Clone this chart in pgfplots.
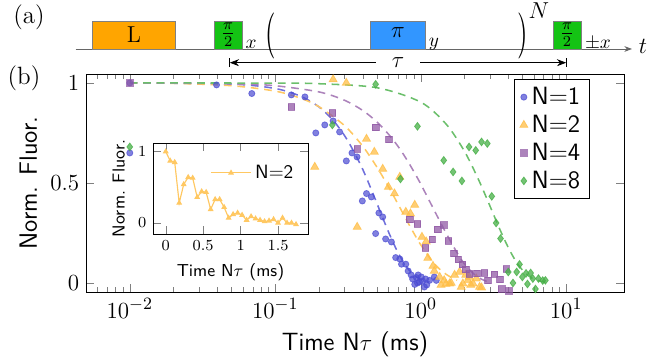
\documentclass[border=0pt]{standalone}
\usepackage{pgfplots}
\usepackage{graphicx}
\pgfplotsset{compat=1.18}
\usetikzlibrary{arrows.meta}
\renewcommand{\familydefault}{\sfdefault}
\definecolor{cA}{RGB}{75,75,210}
\definecolor{cB}{RGB}{255,190,70}
\definecolor{cC}{RGB}{145,90,165}
\definecolor{cD}{RGB}{70,175,70}
\definecolor{boxL}{RGB}{255,165,0}
\definecolor{boxG}{RGB}{20,195,20}
\definecolor{boxB}{RGB}{50,150,255}
\newcommand{\bigfont}{\fontsize{13}{15.6}\selectfont}
\begin{document}
\begin{tikzpicture}
\begin{scope}[x=0.52pt,y=-0.52pt,shift={(-44.72pt,151.84pt)}]
\path[use as bounding box] (0,0) rectangle (657,362);
\node[font=\rmfamily\bigfont] at (29,17) {(a)};
\node[font=\rmfamily\bigfont] at (24,78) {(b)};
\draw[gray!80!black,-{Stealth[length=4pt]}] (75.6,49) -- (632,49);
\node[font=\large] at (643,46) {$t$};
\draw[gray,fill=boxL] (92.4,21) rectangle (175.6,49);
\node[font=\rmfamily\large] at (134,35) {L};
\draw[gray,fill=boxG] (214,21) rectangle (242.4,49);
\node[font=\large] at (228.2,35) {$\frac{\pi}{2}$};
\node at (251,44) {$x$};
\node[inner sep=0pt] at (271,36) {\scalebox{1.4}[2.4]{\rmfamily (}};
\draw[gray,fill=boxB] (370,21) rectangle (425.6,49);
\node[font=\large] at (398,33) {$\pi$};
\node at (434,44) {$y$};
\node[inner sep=0pt] at (523,36) {\scalebox{1.4}[2.4]{\rmfamily )}};
\node[font=\large] at (539,11) {$N$};
\draw[gray,fill=boxG] (553,21) rectangle (581,49);
\node[font=\large] at (567,35) {$\frac{\pi}{2}$};
\node at (598,44) {$\pm x$};
\draw[|<->|,>=Stealth] (229,62.7) -- (567,62.7) node[midway,fill=white,inner xsep=8pt,inner ysep=0pt,font=\large] {$\tau$};
\end{scope}

\begin{axis}[
  name=main, scale only axis, width=279.8pt, height=113.4pt,
  xmode=log, xmin=0.005, xmax=25, ymin=-0.045, ymax=1.045,
  ytick={0,0.5,1},
  font=\bigfont,
  tick label style={font=\bigfont},
  label style={font=\bigfont},
  xlabel={Time N$\tau$ (ms)}, ylabel={Norm. Fluor.},
  legend style={at={(0.937,0.977)}, anchor=north east, legend cell align=left, draw=black, font=\bigfont},
]
\addplot[forget plot, cA!80, line width=0.8pt, dash pattern=on 4pt off 3pt, smooth] coordinates {
(0.01,1.0)(0.05,0.994)(0.1,0.972)(0.15,0.933)(0.2,0.88)(0.25,0.813)(0.3,0.736)(0.35,0.652)(0.4,0.567)(0.45,0.48)(0.5,0.398)(0.55,0.323)(0.6,0.256)(0.65,0.199)(0.7,0.15)(0.8,0.08)(0.9,0.039)(1.0,0.017)(1.15,0.005)};
\addplot[forget plot, cB!85, line width=0.8pt, dash pattern=on 4pt off 3pt, smooth] coordinates {
(0.01,1.0)(0.02,0.998)(0.05,0.986)(0.1,0.959)(0.15,0.923)(0.2,0.881)(0.3,0.786)(0.4,0.683)(0.5,0.579)(0.6,0.482)(0.7,0.393)(0.8,0.314)(0.9,0.247)(1.0,0.191)(1.2,0.109)(1.4,0.059)(1.6,0.030)(1.78,0.014)};
\addplot[forget plot, cC!75, line width=0.8pt, dash pattern=on 4pt off 3pt, smooth] coordinates {
(0.01,1.0)(0.03,0.998)(0.06,0.994)(0.1,0.986)(0.2,0.955)(0.3,0.913)(0.4,0.862)(0.5,0.805)(0.6,0.744)(0.7,0.682)(0.8,0.618)(0.9,0.555)(1.0,0.495)(1.2,0.383)(1.4,0.288)(1.6,0.21)(1.8,0.145)(2.0,0.095)(2.3,0.047)(2.6,0.02)(2.85,0.008)};
\addplot[forget plot, cD!80, line width=0.8pt, dash pattern=on 4pt off 3pt, smooth] coordinates {
(0.01,1.0)(0.1,0.999)(0.2,0.996)(0.5,0.976)(1.0,0.904)(1.5,0.793)(2.0,0.658)(2.5,0.516)(3.0,0.383)(3.5,0.268)(4.0,0.177)(4.5,0.11)(5.0,0.065)(5.5,0.036)(6.0,0.019)(7.0,0.005)(7.5,0.002)};

\addplot[only marks, mark=*, mark size=1.6pt, color=cA, mark options={draw opacity=0.7, fill opacity=0.7}] coordinates {
(0.01,1.0)(0.01,0.65)(0.0395,0.99)(0.069,0.947)(0.129,0.94)(0.16,0.93)(0.19,0.75)(0.219,0.79)(0.25,0.81)(0.277,0.755)(0.308,0.61)(0.337,0.65)(0.365,0.63)(0.397,0.41)(0.424,0.447)(0.458,0.43)(0.49,0.247)(0.516,0.35)(0.548,0.33)(0.574,0.22)(0.629,0.205)(0.673,0.127)(0.718,0.12)(0.738,0.094)(0.79,0.094)(0.82,0.06)(0.86,0.04)(0.88,0.02)(0.91,-0.007)(0.934,0.027)(0.95,0.0)(0.96,0.04)(0.98,0.005)(1.01,0.03)(1.03,0.01)(1.06,-0.02)(1.08,0.02)(1.1,-0.01)(1.15,0.013)(1.24,0.03)(1.28,0.013)};
\addlegendentry{N=1}
\addplot[only marks, mark=triangle*, mark size=2.4pt, color=cB, mark options={draw opacity=0.75, fill opacity=0.75}] coordinates {
(0.187,0.58)(0.25,1.017)(0.308,1.0)(0.366,0.28)(0.424,0.72)(0.48,0.655)(0.548,0.57)(0.60,0.48)(0.66,0.447)(0.718,0.53)(0.79,0.355)(0.85,0.347)(0.91,0.39)(1.02,0.23)(1.09,0.207)(1.12,0.125)(1.215,0.085)(1.24,0.06)(1.35,0.03)(1.38,-0.01)(1.45,0.013)(1.49,-0.005)(1.58,-0.003)(1.62,0.0)(1.71,0.04)(1.85,0.055)(1.9,-0.02)(1.95,-0.003)(2.04,0.04)(2.11,0.013)(2.15,0.03)(2.21,-0.01)(2.29,-0.003)(2.41,0.022)(2.54,-0.02)(2.62,-0.023)};
\addlegendentry{N=2}
\addplot[only marks, mark=square*, mark size=1.7pt, color=cC, mark options={draw opacity=0.75, fill opacity=0.75}] coordinates {
(0.01,1.0)(0.129,0.88)(0.247,0.85)(0.366,0.67)(0.49,0.777)(0.606,0.717)(0.84,0.317)(0.95,0.295)(1.08,0.175)(1.20,0.218)(1.31,0.267)(1.44,0.29)(1.55,0.21)(1.69,0.147)(1.81,0.117)(1.94,0.092)(2.04,0.067)(2.16,0.045)(2.44,0.047)(2.75,0.05)(2.9,0.013)(3.21,0.044)(3.5,0.017)(3.6,-0.03)(3.87,0.07)(4.05,-0.04)};
\addlegendentry{N=4}
\addplot[only marks, mark=diamond*, mark size=2pt, color=cD, mark options={draw opacity=0.75, fill opacity=0.75}] coordinates {
(0.01,0.68)(0.247,0.79)(0.49,0.993)(0.726,0.52)(0.95,0.783)(1.44,0.613)(1.67,0.555)(1.92,0.51)(2.15,0.68)(2.39,0.663)(2.62,0.705)(2.87,0.697)(3.08,0.433)(3.30,0.30)(3.54,0.222)(4.0,0.055)(4.31,0.0)(4.57,0.055)(4.78,0.093)(5.0,0.03)(5.3,0.048)(5.42,-0.005)(5.7,0.05)(5.9,0.022)(6.15,-0.03)(6.45,0.022)(6.9,0.012)(7.2,0.013)};
\addlegendentry{N=8}
\end{axis}

\begin{axis}[
  at={(34.84pt,30.16pt)}, anchor=south west,
  scale only axis, width=80.6pt, height=47.3pt,
  xmin=-0.17, xmax=1.9, ymin=-0.155, ymax=1.12,
  xtick={0,0.5,1,1.5}, ytick={0,1},
  font=\footnotesize,
  label style={font=\small},
  xlabel={Time N$\tau$ (ms)}, ylabel={Norm. Fluor.},
  axis background/.style={fill=white},
  legend style={draw=none, fill=none, at={(0.97,0.85)}, anchor=north east, font=\normalsize},
  legend image code/.code={\draw[mark repeat=2,mark phase=2] plot coordinates {(0cm,0cm)(0.36cm,0cm)(0.72cm,0cm)};},
]
\addplot[cB!85, line width=0.6pt, mark=triangle*, mark size=1.2pt] coordinates {
(0,1.0)(0.06,0.87)(0.12,0.85)(0.18,0.28)(0.24,0.54)(0.30,0.64)(0.36,0.63)(0.42,0.36)(0.48,0.44)(0.54,0.43)(0.60,0.19)(0.66,0.33)(0.72,0.33)(0.78,0.22)(0.84,0.07)(0.90,0.12)(0.96,0.14)(1.02,0.11)(1.08,0.04)(1.14,0.09)(1.20,0.06)(1.26,0.04)(1.32,0.02)(1.38,0.03)(1.44,0.05)(1.50,0.0)(1.56,0.07)(1.62,0.0)(1.68,0.0)(1.74,-0.02)};
\addlegendentry{N=2}
\end{axis}
\end{tikzpicture}
\end{document}
